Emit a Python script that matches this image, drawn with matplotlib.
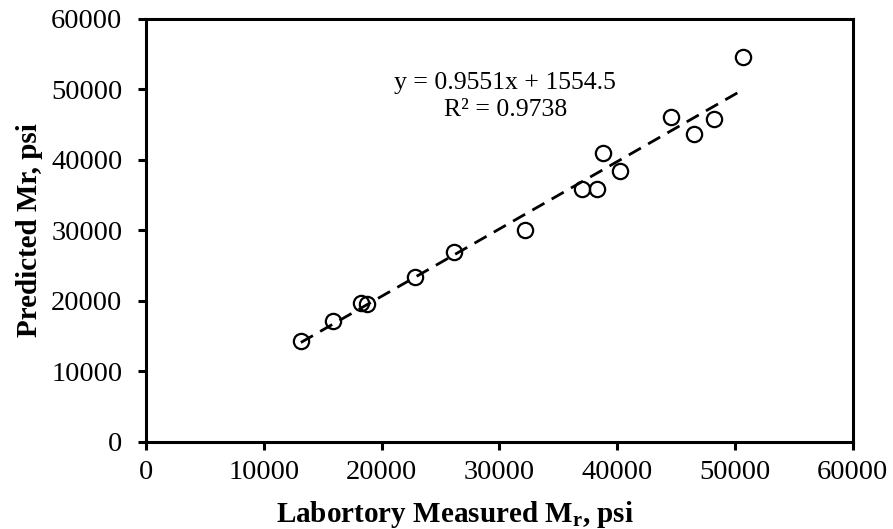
import numpy as np
import matplotlib
matplotlib.use('Agg')
import matplotlib.pyplot as plt

# measured vs predicted resilient modulus, psi
measured = [13150, 15840, 18260, 18730, 22870, 26130, 32200, 37010,
            38290, 38800, 40220, 44620, 46510, 48210, 50710]
predicted = [14370, 17160, 19670, 19570, 23450, 26910, 30070, 35840,
             35840, 41030, 38480, 46140, 43690, 45770, 54650]

slope, intercept = 0.9551, 1554.5
r2 = 0.9738
ticks = [0, 10000, 20000, 30000, 40000, 50000, 60000]

plt.rcParams['font.family'] = 'Liberation Serif'
plt.rcParams['mathtext.fontset'] = 'custom'
plt.rcParams['mathtext.rm'] = 'Liberation Serif'
plt.rcParams['mathtext.bf'] = 'Liberation Serif:bold'

fig = plt.figure(figsize=(8.93, 5.29), dpi=100)
ax = fig.add_axes([0.1635, 0.1645, 0.7912, 0.7996])

ax.plot(measured, predicted, 'o', ms=11, mfc='none', mec='black', mew=1.6)

x_fit = np.array([min(measured), max(measured)])
ax.plot(x_fit, slope * x_fit + intercept, c='black', lw=2,
        linestyle=(0, (5, 3)))

ax.text(30500, 49000, f'y = {slope}x + {intercept}\nR² = {r2}',
        ha='center', va='center', fontsize=18.5, linespacing=1.25)

ax.set_xlim(0, 60000)
ax.set_ylim(0, 60000)
ax.set_xticks(ticks)
ax.set_yticks(ticks)

for s in ax.spines.values():
    s.set_linewidth(2.2)
ax.tick_params(axis='both', direction='out', length=6, width=2.2,
               labelsize=20.5)
ax.tick_params(axis='y', pad=11)
ax.tick_params(axis='x', pad=7)

ax.set_xlabel(r'Labortory Measured M$_\mathbf{r}$, psi', fontsize=21,
              fontweight='bold')
ax.xaxis.set_label_coords(0.437, -0.135)
ax.set_ylabel('Predicted Mr, psi', fontsize=21, fontweight='bold', labelpad=6)

fig.savefig('out.png', dpi=100)
